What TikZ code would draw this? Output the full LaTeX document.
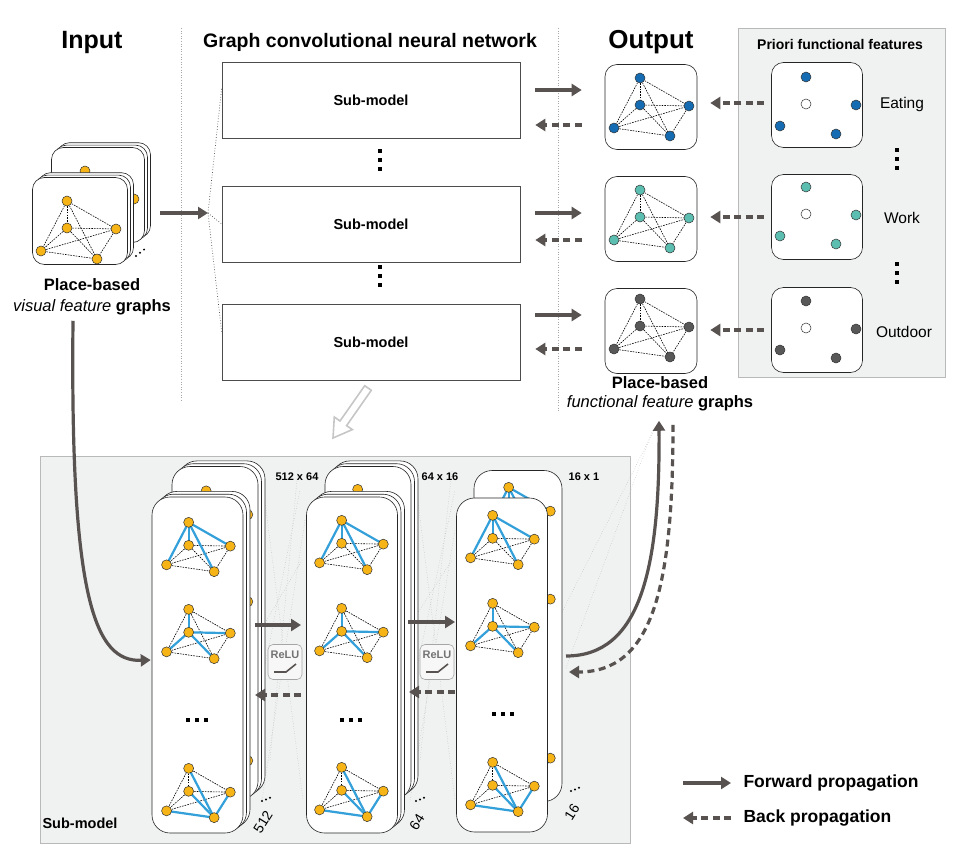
\documentclass[tikz,border=0pt]{standalone}
\usepackage{fontspec}
\setmainfont{Liberation Sans}
\usepackage{tikz}
\usetikzlibrary{positioning}
\usetikzlibrary{arrows.meta}
\usetikzlibrary{calc}

\definecolor{nodeorange}{RGB}{246,180,22}
\definecolor{nodeblue}{RGB}{22,108,178}
\definecolor{nodeteal}{RGB}{92,190,176}
\definecolor{nodegray}{RGB}{88,88,88}
\definecolor{edgeblue}{RGB}{52,160,218}
\definecolor{arrowgray}{RGB}{88,82,80}
\definecolor{panelgray}{RGB}{240,241,241}

\tikzset{
  gnode/.style={circle, draw=black!80, line width=0.5pt, minimum size=10pt, inner sep=0pt},
  gedge/.style={black, line width=0.6pt, dash pattern=on 1.6pt off 1.1pt},
  bedge/.style={edgeblue, line width=2.2pt},
  card/.style={draw=black!85, fill=white, line width=0.6pt, inner sep=0pt},
  smbox/.style={draw=black!70, fill=white, line width=0.6pt, minimum width=298pt, minimum height=76pt, font=\bfseries\fontsize{14.5}{17}\selectfont},
  fwd/.style={draw=arrowgray, line width=3.2pt, -{Triangle[length=10pt,width=12pt]}},
  back/.style={fwd, dash pattern=on 7pt off 4.5pt},
  head/.style={font=\bfseries\fontsize{25}{30}\selectfont},
  conn/.style={gray!55, line width=0.5pt, dotted},
  sep/.style={gray!70, line width=0.6pt, dotted}
}

% complete graph on five nodes, #5 = blue edges
\newcommand{\kfive}[5]{%
  \begin{scope}[shift={#2},scale=#3]
    \coordinate (#1t) at (-11,-29);
    \coordinate (#1c) at (-11,-2);
    \coordinate (#1r) at (38,-1);
    \coordinate (#1l) at (-37,21);
    \coordinate (#1b) at (19,29);
  \end{scope}
  \foreach \a/\b in {t/c,t/r,t/l,t/b,c/r,c/l,c/b,l/r,l/b,r/b} \draw[gedge] (#1\a) -- (#1\b);
  \foreach \a/\b in {#5} \draw[bedge] (#1\a) -- (#1\b);
  \foreach \p in {t,c,r,l,b} \node[gnode, fill=#4] (#1\p n) at (#1\p) {};
}
% five dots of a priori feature
\newcommand{\kdots}[3]{%
  \begin{scope}[shift={#2}]
    \node[gnode, fill=#3] (#1t) at (-11,-28) {};
    \node[gnode, fill=white] (#1c) at (-11,-1) {};
    \node[gnode, fill=#3] (#1r) at (39,0) {};
    \node[gnode, fill=#3] (#1l) at (-37,21) {};
    \node[gnode, fill=#3] (#1b) at (19,29) {};
  \end{scope}
}
% card with two outlines behind it
\newcommand{\stackcard}[6]{%
  \foreach \o in {#6,#6/2} \node[card, rounded corners=#5, minimum width=#3, minimum height=#4] at ($(#2)+(\o,-0.8*\o)$) {};
  \node[card, rounded corners=#5, minimum width=#3, minimum height=#4] (#1) at (#2) {};
}
\newcommand{\vdotsq}[1]{\foreach \k in {-9,0,9} \fill ($(#1)+(-2,\k-2)$) rectangle ++(4,4);}
\newcommand{\hdotsq}[1]{\foreach \k in {-9,0,9} \fill ($(#1)+(\k-2,-2)$) rectangle ++(4,4);}
\newcommand{\stacknum}[2]{%
  \node[rotate=58, font=\fontsize{14}{16}\selectfont, inner sep=1pt] at (#1) {#2};
  \foreach \k in {0,4,8} \fill ($(#1)+(-1+\k,-21-0.4*\k)$) circle (1.1pt);
}

\begin{document}
\begin{tikzpicture}[x=1pt,y=-1pt]
\useasboundingbox (0,0) rectangle (960,856);

% panels and separators
\draw[gray!55, fill=panelgray] (738,28) rectangle (945,377);
\draw[gray!55, fill=panelgray] (40,456) rectangle (630,843);
\draw[sep] (181,28) -- (181,402);
\draw[sep] (558,28) -- (558,412);

\node[head] (hin) at (92,42) {Input};
\node[font=\bfseries\fontsize{19.5}{23}\selectfont] (hgcn) at (370,42) {Graph convolutional neural network};
\node[head, font=\bfseries\fontsize{26}{30}\selectfont] (hout) at (651,42) {Output};
\node[font=\bfseries\fontsize{14}{17}\selectfont] (hpri) at (840,44) {Priori functional features};

% input graphs
\stackcard{inb}{98,195}{93}{95}{12pt}{6}
\kfive{ib}{(96,200)}{1}{nodeorange}{c/c}
\stackcard{inf}{80,221}{95}{87}{12pt}{6}
\kfive{if}{(78,230)}{1}{nodeorange}{c/c}
\foreach \k in {0,4,8} \fill (136+\k,256-\k*0.8) circle (1.1pt);
\node[align=center, font=\fontsize{16.5}{21}\selectfont] (inlabel) at (92,297)
  {\textbf{Place-based}\\\textit{visual feature} \textbf{graphs}};

% sub-models
\node[smbox] (sm1) at (371,100) {Sub-model};
\node[smbox] (sm2) at (371,224) {Sub-model};
\node[smbox] (sm3) at (371,342) {Sub-model};
\vdotsq{380,160}
\vdotsq{380,276}
\coordinate (inarr) at (160,213);
\coordinate (fan) at (208,213);
\draw[fwd] (inarr) -- (fan);
\foreach \i/\d in {1/-12,2/0,3/-10} \draw[black!70, line width=0.7pt, dotted] (fan) -- ($(sm\i.west)+(0,\d)$);

% output graphs
\node[card, rounded corners=12pt, minimum width=92, minimum height=85] (out1) at (651,107) {};
\node[card, rounded corners=12pt, minimum width=92, minimum height=85] (out2) at (651,219) {};
\node[card, rounded corners=12pt, minimum width=92, minimum height=85] (out3) at (651,331) {};
\kfive{oa}{(651,107)}{1}{nodeblue}{c/c}
\kfive{ob}{(651,219)}{1}{nodeteal}{c/c}
\kfive{oc}{(651,328)}{1}{nodegray}{c/c}
\node[align=center, font=\fontsize{16.5}{19}\selectfont] (outlabel) at (660,394)
  {\textbf{Place-based}\\\textit{functional feature} \textbf{graphs}};

\foreach \i/\yf/\yb in {1/90/125,2/213/240,3/315/349} {
  \draw[fwd] ([xshift=15pt]sm\i.east |- 0,\yf) -- ([xshift=-23pt]out\i.west |- 0,\yf);
  \draw[back] ([xshift=-23pt]out\i.west |- 0,\yb) -- ([xshift=15pt]sm\i.east |- 0,\yb);
}

% priori functional features
\node[card, rounded corners=12pt, minimum width=91, minimum height=85] (pr1) at (817,105) {};
\node[card, rounded corners=12pt, minimum width=91, minimum height=85] (pr2) at (817,217) {};
\node[card, rounded corners=12pt, minimum width=91, minimum height=85] (pr3) at (817,330) {};
\kdots{pa}{(817,105)}{nodeblue}
\kdots{pb}{(817,215)}{nodeteal}
\kdots{pc}{(817,329)}{nodegray}
\node[font=\fontsize{15.5}{18}\selectfont] (eat) at (902,104) {Eating};
\node[font=\fontsize{15.5}{18}\selectfont] (work) at (902,218) {Work};
\node[font=\fontsize{15.5}{18}\selectfont] (outd) at (904,332) {Outdoor};
\vdotsq{897,159}
\vdotsq{897,273}
\foreach \i/\y in {1/103,2/217,3/330}
  \draw[back] ([xshift=-7pt]pr\i.west |- 0,\y) -- ([xshift=13pt]out\i.east |- 0,\y);

% hollow arrow to the sub-model
\draw[gray!45, line width=1.6pt, line join=miter]
  (371.3,390.3) -- (346.6,425.6) -- (352.3,429.6) -- (333,438) -- (334.3,417.0) -- (340.0,421.0) -- (364.7,385.7) -- cycle;

% faint connections between layers
\foreach \a/\b in {{262,478}/{303,800},{258,700}/{300,490},{255,640}/{302,560},{262,800}/{305,520},{270,760}/{298,470},
                   {415,478}/{455,800},{410,700}/{455,490},{413,620}/{452,560},{410,800}/{455,530},{420,760}/{452,470},
                   {562,612}/{655,428},{566,668}/{652,432}}
  \draw[conn] (\a) -- (\b);

% layer 512 x 64
\stackcard{c1b}{215,633}{86}{333}{18pt}{7}
\kfive{la}{(215.5,515.5)}{0.85}{nodeorange}{t/c,t/l,t/r,t/b}
\kfive{lb}{(215.5,602.5)}{0.85}{nodeorange}{t/c,c/l,c/r,c/b}
\kfive{lc}{(215.5,761.5)}{0.85}{nodeorange}{t/b,c/b,l/b,r/b}
\stackcard{c1f}{197.5,665}{91}{336}{18pt}{7}
\kfive{ld}{(198,547)}{0.85}{nodeorange}{t/c,t/l,t/r,t/b}
\kfive{le}{(198,634)}{0.85}{nodeorange}{t/c,c/l,c/r,c/b}
\kfive{lf}{(198,793)}{0.85}{nodeorange}{t/b,c/b,l/b,r/b}
\hdotsq{197,720}

% layer 64 x 16
\stackcard{c2b}{368,633}{86}{333}{18pt}{7}
\kfive{ma}{(367,514)}{0.85}{nodeorange}{t/c,t/l,t/r,t/b}
\kfive{mb}{(367,602)}{0.85}{nodeorange}{t/c,c/l,c/r,c/b}
\kfive{mc}{(367,761)}{0.85}{nodeorange}{t/b,c/b,l/b,r/b}
\stackcard{c2f}{352,665}{91}{336}{18pt}{7}
\kfive{md}{(351,545)}{0.85}{nodeorange}{t/c,t/l,t/r,t/b}
\kfive{me}{(351,633)}{0.85}{nodeorange}{t/c,c/l,c/r,c/b}
\kfive{mf}{(351,792)}{0.85}{nodeorange}{t/b,c/b,l/b,r/b}
\hdotsq{351,720}

% layer 16 x 1
\node[card, rounded corners=18pt, minimum width=88, minimum height=331] (c3b) at (518,636) {};
\kfive{ra}{(518,512)}{0.85}{nodeorange}{t/c,t/l,t/r,t/b}
\kfive{rb}{(518,600)}{0.85}{nodeorange}{t/c,c/l,c/r,c/b}
\kfive{rc}{(518,759)}{0.85}{nodeorange}{t/b,c/b,l/b,r/b}
\node[card, rounded corners=18pt, minimum width=91, minimum height=334] (c3f) at (502,665) {};
\kfive{rd}{(502,540)}{0.85}{nodeorange}{t/c,t/l,t/r,t/b}
\kfive{re}{(502,628)}{0.85}{nodeorange}{t/c,c/l,c/r,c/b}
\kfive{rf}{(502,787)}{0.85}{nodeorange}{t/b,c/b,l/b,r/b}
\hdotsq{503,714}

\node[font=\bfseries\fontsize{11}{13}\selectfont] (d1) at (297,477) {512 x 64};
\node[font=\bfseries\fontsize{11}{13}\selectfont] (d2) at (440,477) {64 x 16};
\node[font=\bfseries\fontsize{11}{13}\selectfont] (d3) at (584,477) {16 x 1};
\stacknum{263,822}{512}
\stacknum{417,822}{64}
\stacknum{572,812}{16}
\node[font=\bfseries\fontsize{14.5}{17}\selectfont] (bsub) at (80,823) {Sub-model};

% ReLU between layers
\foreach \i/\x in {1/285,2/437} {
  \node[draw=gray!70, fill=gray!6, rounded corners=5pt, minimum width=34, minimum height=35, line width=0.6pt] (relu\i) at (\x,662) {};
  \node[font=\bfseries\fontsize{11}{12}\selectfont, text=gray!90!black] at (\x,655) {ReLU};
  \draw[arrowgray, line width=1.6pt] (\x-11,672) -- (\x+1,672) -- (\x+11,664);
}
\draw[fwd] (255,625) -- (301,625);
\draw[back] (301,695) -- (255,695);
\draw[fwd] (408,622) -- (455,622);
\draw[back] (455,692) -- (409,692);

% propagation to and from the sub-model
\draw[fwd] ([xshift=-19pt,yshift=-2pt]inlabel.south) .. controls (70,600) and (95,662) .. ([xshift=-1pt]c1f.west |- 0,660);
\coordinate (sout) at (566,656);
\coordinate (sback) at (569,672);
\draw[fwd] (sout) .. controls (640,656) and (660,570) .. ([xshift=-1pt,yshift=-6pt]outlabel.south);
\draw[back] ([xshift=13pt,yshift=-10pt]outlabel.south) .. controls (673,590) and (652,672) .. (sback);

% legend
\coordinate (lf1) at (683,783);
\coordinate (lf2) at (731,783);
\coordinate (lb1) at (731,818);
\coordinate (lb2) at (683,818);
\draw[fwd] (lf1) -- (lf2);
\draw[back] (lb1) -- (lb2);
\node[anchor=west, font=\bfseries\fontsize{17.5}{20}\selectfont] (lfwd) at (740,783) {Forward propagation};
\node[anchor=west, font=\bfseries\fontsize{17.5}{20}\selectfont] (lbck) at (740,818) {Back propagation};
\end{tikzpicture}
\end{document}
